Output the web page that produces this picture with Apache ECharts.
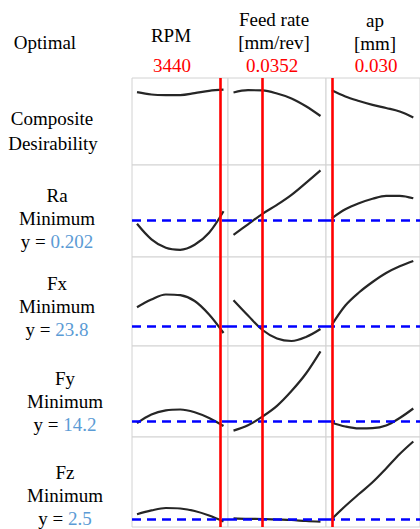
<!DOCTYPE html>
<html><head><meta charset="utf-8">
<script src="https://cdn.jsdelivr.net/npm/echarts@6/dist/echarts.min.js"></script>
<style>html,body{margin:0;padding:0;background:#fff}#c{width:420px;height:529px}</style>
</head><body><div id="c"></div>
<script>
// ---------- data ----------
const factorNames = ['RPM', 'Feed rate', 'ap'];
const factorUnits = ['', '[mm/rev]', '[mm]'];
const optimalSettings = [3440, 0.0352, 0.030];
const optimalLabels = ['3440', '0.0352', '0.030'];
const rpmLevels = [2000, 2250, 2500, 2750, 3000, 3250, 3500];
const feedLevels = [0.02, 0.03, 0.04, 0.05, 0.06, 0.07, 0.08];
const apLevels = [0.03, 0.075, 0.12, 0.165, 0.21, 0.255, 0.30];
const responseNames = ['Ra', 'Fx', 'Fy', 'Fz'];
const responseGoals = ['Minimum', 'Minimum', 'Minimum', 'Minimum'];
const predictedValues = [0.202, 23.8, 14.2, 2.5];
const predictedLabels = ['0.202', '23.8', '14.2', '2.5'];

const desirRPM = [0.835, 0.808, 0.802, 0.802, 0.824, 0.851, 0.864];
const desirFeed = [0.831, 0.858, 0.855, 0.820, 0.763, 0.672, 0.558];
const desirAp = [0.857, 0.785, 0.733, 0.688, 0.651, 0.610, 0.541];
const raRPM = [0.193, 0.162, 0.145, 0.141, 0.151, 0.175, 0.218];
const raFeed = [0.171, 0.192, 0.213, 0.231, 0.251, 0.275, 0.300];
const raAp = [0.204, 0.222, 0.234, 0.243, 0.249, 0.249, 0.244];
const fxRPM = [27.56, 29.1, 30.1, 29.96, 28.8, 26.1, 22.4];
const fxFeed = [28.96, 25.9, 23.0, 21.3, 20.8, 21.6, 23.2];
const fxAp = [24.0, 27.9, 30.5, 32.6, 34.4, 35.74, 36.8];
const fyRPM = [13.92, 15.64, 16.46, 16.64, 16.1, 14.94, 13.34];
const fyFeed = [12.42, 13.48, 15.24, 17.38, 20.34, 23.84, 28.28];
const fyAp = [14.0, 13.24, 12.86, 12.9, 13.44, 14.94, 16.84];
const fzRPM = [2.74, 2.93, 3.05, 3.025, 2.9, 2.675, 2.375];
const fzFeed = [2.535, 2.51, 2.5, 2.475, 2.45, 2.4, 2.365];
const fzAp = [2.5, 3.15, 3.75, 4.335, 5.025, 5.75, 6.375];

// ---------- layout ----------
const levels = [rpmLevels, feedLevels, apLevels];
const curves = [
  [desirRPM, desirFeed, desirAp],
  [raRPM, raFeed, raAp],
  [fxRPM, fxFeed, fxAp],
  [fyRPM, fyFeed, fyAp],
  [fzRPM, fzFeed, fzAp]
];
const colLeft = [132, 228, 326];
const colWidth = [96, 98, 98];
const rowTop = [78, 165, 257, 346, 437];
const rowHeight = [87, 92, 89, 91, 90];
const xRanges = [[1913, 3578], [0.0162, 0.0838], [0.0109, 0.3222]];
const yRanges = [[-0.0116, 1], [0.1266, 0.3106], [19.8, 37.6], [11.14, 29.34], [2.1, 6.6]];

const grids = [], xAxes = [], yAxes = [], series = [];
let gi = 0;
for (let r = 0; r < 5; r++) {
  for (let c = 0; c < 3; c++) {
    grids.push({left: colLeft[c], top: rowTop[r], width: colWidth[c], height: rowHeight[r],
      show: true, borderColor: '#d2d2d2', borderWidth: 1, backgroundColor: '#fff', containLabel: false});
    xAxes.push({type: 'value', gridIndex: gi, min: xRanges[c][0], max: xRanges[c][1], show: false});
    yAxes.push({type: 'value', gridIndex: gi, min: yRanges[r][0], max: yRanges[r][1], show: false});
    const ml = [{xAxis: optimalSettings[c], lineStyle: {color: '#ff0000', width: 2.6, type: 'solid'}}];
    if (r > 0) ml.unshift({yAxis: predictedValues[r - 1], lineStyle: {color: '#0000ff', width: 2.6, type: [9, 6]}});
    series.push({
      type: 'line', xAxisIndex: gi, yAxisIndex: gi, smooth: 0.35, showSymbol: false, silent: true,
      animation: false, clip: false,
      data: levels[c].map((x, i) => [x, curves[r][c][i]]),
      lineStyle: {color: '#262626', width: 2.2},
      markLine: {silent: true, symbol: 'none', label: {show: false}, animation: false, data: ml}
    });
    gi++;
  }
}

const F = '"Liberation Serif", "Times New Roman", serif';
function txt(t, x, y, color) {
  return {type: 'text', x: x, y: y, silent: true, style: {text: t, fill: color || '#000',
    font: '19px ' + F, align: 'center', verticalAlign: 'middle', textAlign: 'center', textVerticalAlign: 'middle'}};
}
function ytxt(lbl, x, y) {
  return {type: 'text', x: x, y: y, silent: true, style: {text: '{a|y = }{b|' + lbl + '}',
    align: 'center', verticalAlign: 'middle', textAlign: 'center', textVerticalAlign: 'middle',
    font: '19px ' + F,
    rich: {a: {fill: '#000', fontSize: 19, fontFamily: F}, b: {fill: '#5b9bd5', fontSize: 19, fontFamily: F}}}};
}
const graphics = [
  txt('Optimal', 45, 42),
  txt(factorNames[0], 171, 35),
  txt(factorNames[1], 274, 19), txt(factorUnits[1], 274, 42),
  txt(factorNames[2], 375, 20), txt(factorUnits[2], 375, 43),
  txt(optimalLabels[0], 172, 65, '#ff0000'),
  txt(optimalLabels[1], 272, 65, '#ff0000'),
  txt(optimalLabels[2], 376, 65, '#ff0000'),
  txt('Composite', 52, 118), txt('Desirability', 53, 143)
];
const labelX = [57, 57, 65, 65];
const labelY = [195, 283, 378, 472];
for (let i = 0; i < 4; i++) {
  graphics.push(txt(responseNames[i], labelX[i], labelY[i]));
  graphics.push(txt(responseGoals[i], labelX[i], labelY[i] + 23));
  graphics.push(ytxt(predictedLabels[i], labelX[i], labelY[i] + 46));
}

const chart = echarts.init(document.getElementById('c'), null, {renderer: 'svg'});
chart.setOption({
  animation: false,
  backgroundColor: '#fff',
  grid: grids, xAxis: xAxes, yAxis: yAxes, series: series,
  graphic: graphics
});
</script></body></html>
